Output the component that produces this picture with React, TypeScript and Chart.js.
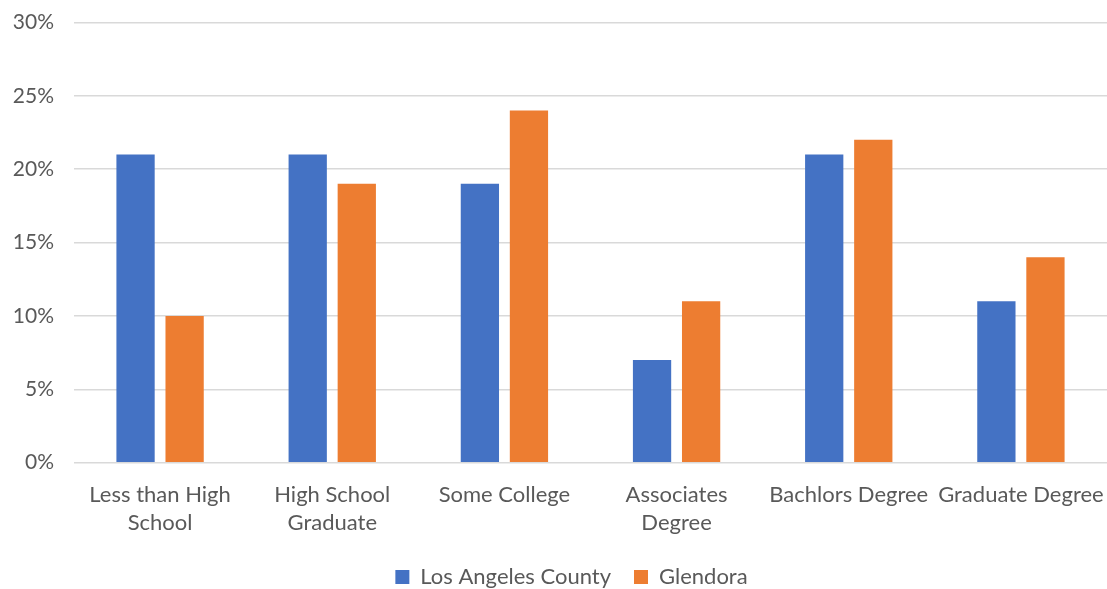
import React, { useEffect, useRef } from "react";
import { Chart, registerables } from "chart.js";

Chart.register(...registerables);

const categories: (string | string[])[] = [
  ["Less than High", "School"],
  ["High School", "Graduate"],
  "Some College",
  ["Associates", "Degree"],
  "Bachlors Degree",
  "Graduate Degree",
];
const laCounty = [21, 21, 19, 7, 21, 11];
const glendora = [10, 19, 24, 11, 22, 14];
const seriesNames = ["Los Angeles County", "Glendora"];
const colors = ["#4472C4", "#ED7D31"];

const legendShift = {
  id: "legendShift",
  afterLayout(chart: any) {
    if (chart.legend) {
      chart.legend.left += 18;
      chart.legend.right += 18;
    }
  },
};

export default function App() {
  const ref = useRef<HTMLCanvasElement>(null);
  useEffect(() => {
    if (!ref.current) return;
    const family = "Lato, 'Open Sans', sans-serif";
    const font = { family, size: 22, lineHeight: 1.28 };
    const yFont = { family, size: 21, lineHeight: 1.28 };
    const chart = new Chart(ref.current, {
      type: "bar",
      data: {
        labels: categories,
        datasets: [
          { label: seriesNames[0], data: laCounty, backgroundColor: colors[0] },
          { label: seriesNames[1], data: glendora, backgroundColor: colors[1] },
        ],
      },
      plugins: [legendShift],
      options: {
        animation: false,
        responsive: true,
        maintainAspectRatio: false,
        datasets: { bar: { categoryPercentage: 0.57, barPercentage: 0.78 } },
        layout: { padding: { left: 0, right: 0, top: -9, bottom: -9 } },
        plugins: {
          legend: {
            position: "bottom",
            labels: {
              color: "#595959",
              font,
              boxWidth: 14,
              boxHeight: 14,
              padding: 23,
            },
          },
          tooltip: { enabled: false },
        },
        scales: {
          x: {
            grid: { display: false },
            border: { display: false },
            ticks: { color: "#595959", font, maxRotation: 0, autoSkip: false, padding: 10 },
            afterFit: (s: any) => {
              s.height = s.height - 4;
              s.paddingRight = 0;
              s.paddingLeft = 0;
            },
          },
          y: {
            min: 0,
            max: 30,
            grid: { color: "#d9d9d9", lineWidth: 1.5, drawTicks: false },
            border: { display: false },
            ticks: {
              stepSize: 5,
              color: "#595959",
              font: yFont,
              padding: 20,
              callback: (v: any) => v + "%",
            },
            afterFit: (s: any) => {
              s.width = 74;
            },
          },
        },
      },
    });
    return () => chart.destroy();
  }, []);
  return (
    <div style={{ position: "fixed", left: 0, top: -11, width: 1107, height: 600, background: "#fff" }}>
      <canvas ref={ref} />
    </div>
  );
}
